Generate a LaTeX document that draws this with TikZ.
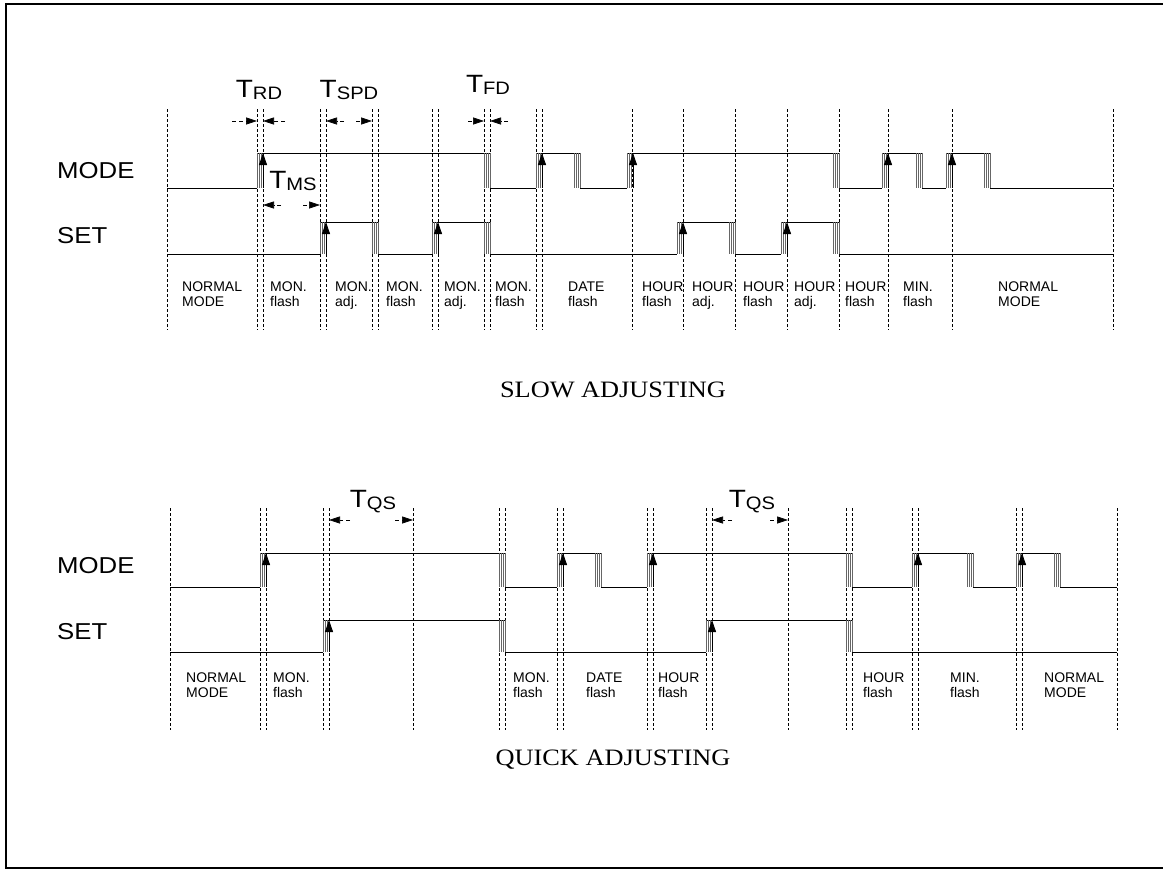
\documentclass[tikz,border=0pt]{standalone}
\usepackage{fontspec}
\setmainfont{Liberation Serif}
\setsansfont{Liberation Sans}
\newfontfamily\widesf{Liberation Sans}[FakeStretch=1.12]
\newfontfamily\widerm{Liberation Serif}[FakeStretch=1.12]
\usepackage{tikz}
\usetikzlibrary{arrows.meta,positioning}

\tikzset{
	wave/.style={line width=0.8pt},
	gridline/.style={line width=0.5pt, dash pattern=on 3pt off 2pt},
	bnc/.style={line width=0.7pt, black!60},
	edgetip/.style={line width=0.8pt, -{Triangle[length=12pt,width=8pt]}},
	tmark/.style={line width=0.6pt, dash pattern=on 4pt off 3pt, -{Triangle[length=11pt,width=7pt]}},
	phase/.style={font=\fontsize{14}{15}\sffamily, align=left, anchor=north west, inner sep=0pt},
	signame/.style={font=\fontsize{23}{23}\widesf, anchor=west, inner sep=0pt},
	tlabel/.style={font=\fontsize{25}{25}\widesf, inner sep=0pt},
	caption/.style={font=\fontsize{23.5}{23.5}\widerm, inner sep=0pt}
}
\newcommand{\tsub}[1]{T\raisebox{-2pt}{\fontsize{18}{18}\selectfont #1}}
% rising edge with bounce: left x, high y, low y
\newcommand{\riseedge}[3]{%
	\foreach \k in {0,2,4}{\draw[bnc] ({#1+\k},#2) -- ({#1+\k},#3);}%
	\draw[edgetip] ({#1+6},#3) -- ({#1+6},#2);}
% falling edge with bounce
\newcommand{\falledge}[3]{%
	\foreach \k in {0,2,4,6}{\draw[bnc] ({#1+\k},#2) -- ({#1+\k},#3);}}

\begin{document}
\begin{tikzpicture}[x=1pt,y=-1pt]
	\useasboundingbox (0,0) rectangle (1163,870);
	\draw[line width=1.8pt] (1163,4) -- (6,4) -- (6,868) -- (1163,868);
	
	% slow adjusting
	\foreach \x in {167,257,263,320,326,372,378,432,438,484,490,536,542,632,683,735,787,839,888,952,1113}
		\draw[gridline] (\x,109) -- (\x,330);
	
	\node[signame] (modeA) at (57,171) {MODE};
	\node[signame] (setA) at (57,236) {SET};
	
	\draw[wave] (167,188) -- (257,188) (257,153) -- (490,153) (490,188) -- (536,188)
		(536,153) -- (580,153) (580,188) -- (627,188) (627,153) -- (839,153)
		(839,188) -- (882,188) (882,153) -- (922,153) (922,188) -- (946,188)
		(946,153) -- (990,153) (990,188) -- (1113,188);
	\foreach \x in {257,536,627,882,946}{\riseedge{\x}{153}{188}}
	\foreach \x in {484,574,833,916,984}{\falledge{\x}{153}{188}}
	
	\draw[wave] (167,254) -- (320,254) (320,222) -- (378,222) (378,254) -- (432,254)
		(432,222) -- (490,222) (490,254) -- (677,254) (677,222) -- (735,222)
		(735,254) -- (781,254) (781,222) -- (839,222) (839,254) -- (1113,254);
	\foreach \x in {320,432,677,781}{\riseedge{\x}{222}{254}}
	\foreach \x in {372,484,729,833}{\falledge{\x}{222}{254}}
	
	\foreach \x/\t in {182/NORMAL\\MODE, 270/MON.\\flash, 335/MON.\\adj., 386/MON.\\flash,
		444/MON.\\adj., 495/MON.\\flash, 568/DATE\\flash, 642/HOUR\\flash, 692/HOUR\\adj.,
		743/HOUR\\flash, 794/HOUR\\adj., 845/HOUR\\flash, 903/MIN.\\flash, 998/NORMAL\\MODE}
		\node[phase] (sa\x) at (\x,282) {\t};
	
	\node[tlabel] (trd) at (259,90) {\tsub{RD}};
	\draw[tmark] (232,121) -- (257,121);
	\draw[tmark] (285,121) -- (263,121);
	\node[tlabel] (tspd) at (349,90) {\tsub{SPD}};
	\draw[tmark] (344,121) -- (326,121);
	\draw[tmark] (356,121) -- (372,121);
	\node[tlabel] (tfd) at (488,85) {\tsub{FD}};
	\draw[tmark] (468,121) -- (484,121);
	\draw[tmark] (508,121) -- (490,121);
	\node[tlabel] (tms) at (293,181) {\tsub{MS}};
	\draw[tmark] (281,205) -- (263,205);
	\draw[tmark] (303,205) -- (320,205);
	
	\node[caption] (slow) at (613,390) {SLOW ADJUSTING};
	
	% quick adjusting
	\foreach \x in {170,260,266,323,329,413,499,505,557,563,647,653,706,712,788,846,852,912,918,1016,1022,1117}
		\draw[gridline] (\x,508) -- (\x,730);
	
	\node[signame] (modeB) at (57,566) {MODE};
	\node[signame] (setB) at (57,632) {SET};
	
	\draw[wave] (170,587) -- (260,587) (260,553) -- (505,553) (505,587) -- (557,587)
		(557,553) -- (601,553) (601,587) -- (647,587) (647,553) -- (852,553)
		(852,587) -- (912,587) (912,553) -- (973,553) (973,587) -- (1016,587)
		(1016,553) -- (1060,553) (1060,587) -- (1117,587);
	\foreach \x in {260,557,647,912,1016}{\riseedge{\x}{553}{587}}
	\foreach \x in {499,595,846,967,1054}{\falledge{\x}{553}{587}}
	
	\draw[wave] (170,652) -- (323,652) (323,620) -- (505,620) (505,652) -- (706,652)
		(706,620) -- (852,620) (852,652) -- (1117,652);
	\foreach \x in {323,706}{\riseedge{\x}{620}{652}}
	\foreach \x in {499,846}{\falledge{\x}{620}{652}}
	
	\foreach \x/\t in {186/NORMAL\\MODE, 273/MON.\\flash, 513/MON.\\flash, 586/DATE\\flash,
		658/HOUR\\flash, 863/HOUR\\flash, 950/MIN.\\flash, 1044/NORMAL\\MODE}
		\node[phase] (qa\x) at (\x,673) {\t};
	
	\node[tlabel] (tqsA) at (373,502) {\tsub{QS}};
	\draw[tmark] (350,520) -- (329,520);
	\draw[tmark] (395,520) -- (413,520);
	\node[tlabel] (tqsB) at (752,502) {\tsub{QS}};
	\draw[tmark] (732,520) -- (712,520);
	\draw[tmark] (770,520) -- (788,520);
	
	\node[caption] (quick) at (613,760) {QUICK ADJUSTING};
	
\end{tikzpicture}
\end{document}
